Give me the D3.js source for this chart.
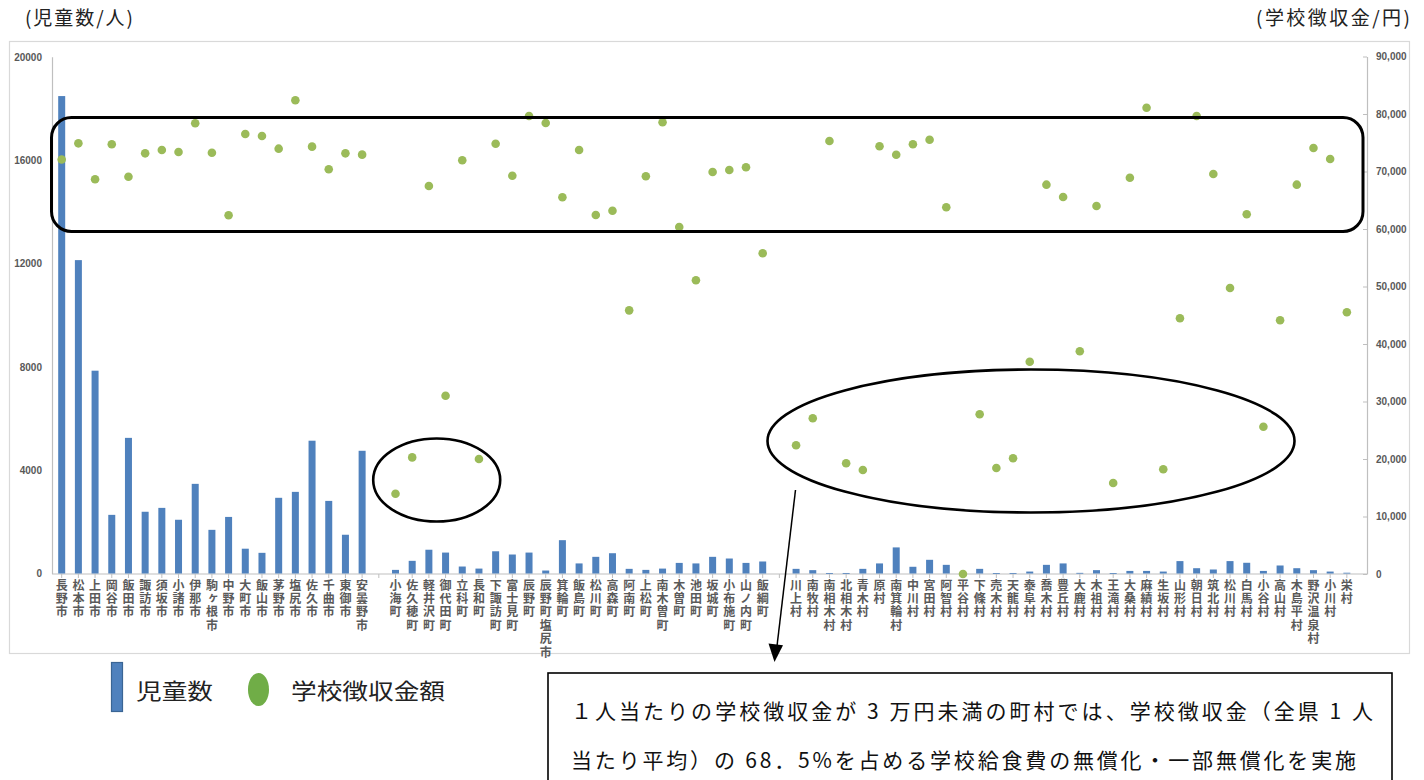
<!DOCTYPE html>
<html lang="ja">
<head>
<meta charset="utf-8">
<script src="https://cdn.jsdelivr.net/npm/d3@7"></script>
<style>
  html, body { margin: 0; padding: 0; background: #fff; }
  svg { display: block; }
  .vlab { writing-mode: vertical-rl; text-orientation: upright; }
</style>
</head>
<body>
<svg id="chart" width="1424" height="780"></svg>
<script>
// ---- data ----
const categories = [
  "長野市","松本市","上田市","岡谷市","飯田市","諏訪市","須坂市","小諸市","伊那市","駒ヶ根市",
  "中野市","大町市","飯山市","茅野市","塩尻市","佐久市","千曲市","東御市","安曇野市",
  "",
  "小海町","佐久穂町","軽井沢町","御代田町","立科町","長和町","下諏訪町","富士見町","辰野町","辰野町塩尻市",
  "箕輪町","飯島町","松川町","高森町","阿南町","上松町","南木曽町","木曽町","池田町","坂城町",
  "小布施町","山ノ内町","飯綱町",
  "",
  "川上村","南牧村","南相木村","北相木村","青木村","原村","南箕輪村","中川村","宮田村","阿智村",
  "平谷村","下條村","売木村","天龍村","泰阜村","喬木村","豊丘村","大鹿村","木祖村","王滝村",
  "大桑村","麻績村","生坂村","山形村","朝日村","筑北村","松川村","白馬村","小谷村","高山村",
  "木島平村","野沢温泉村","小川村","栄村"
];
// 児童数 (人)
const children = [
  18480, 12130, 7850, 2270, 5250, 2390, 2540, 2080, 3470, 1690,
  2190, 960, 800, 2930, 3160, 5140, 2810, 1500, 4750,
  null,
  140, 490, 920, 810, 270, 190, 860, 735, 810, 115,
  1290, 390, 645, 785, 180, 140, 190, 410, 390, 645,
  580, 410, 465,
  null,
  180, 130, 20, 20, 180, 390, 1010, 260, 530, 335,
  15, 180, 15, 20, 75, 335, 390, 25, 130, 15,
  100, 100, 75, 480, 205, 155, 480, 415, 100, 310,
  205, 130, 75, 30
];
// 学校徴収金額 (円)
const fees = [
  72100, 74900, 68640, 74730, 69100, 73160, 73740, 73390, 78380, 73270,
  62380, 76520, 76170, 73970, 82380, 74320, 70380, 73160, 72930,
  null,
  13960, 20280, 67480, 31010, 71950, 20000, 74830, 69270, 79650, 78430,
  65510, 73740, 62430, 63180, 45850, 69170, 78560, 60350, 51080, 69910,
  70260, 70730, 55770,
  null,
  22380, 27080, 75300, 19250, 18090, 74380, 72920, 74730, 75530, 63770,
  0, 27770, 18430, 20120, 36920, 67710, 65570, 38730, 64000, 15830,
  68920, 81100, 18210, 44470, 79650, 69570, 49740, 62560, 25620, 44120,
  67710, 74090, 72170, 45510
];
const leftTicks = [0, 4000, 8000, 12000, 16000, 20000];
const rightTicks = [0, 10000, 20000, 30000, 40000, 50000, 60000, 70000, 80000, 90000];
const leftTitle = "(児童数/人)";
const rightTitle = "(学校徴収金/円)";
const legendLabels = ["児童数", "学校徴収金額"];
const noteLines = [
  "１人当たりの学校徴収金が 3 万円未満の町村では、学校徴収金（全県 1 人",
  "当たり平均）の 68．5%を占める学校給食費の無償化・一部無償化を実施"
];

// ---- drawing ----
const svg = d3.select("#chart");
const FONT = "'Noto Sans CJK JP', 'Noto Sans', sans-serif";
const LAT = "'Liberation Sans', Arial, sans-serif";
const barColor = "#4f81bd";
const dotColor = "#9bbb59";
const axisColor = "#bfbfbf";

svg.append("rect").attr("width", 1424).attr("height", 780).attr("fill", "#fff");

// chart frame
svg.append("rect").attr("x", 9.5).attr("y", 41.5).attr("width", 1400).attr("height", 612)
  .attr("fill", "#fff").attr("stroke", "#d9d9d9").attr("stroke-width", 1.2);

const x = d3.scaleBand().domain(d3.range(categories.length)).range([53.35, 1355.2]).padding(0);
const yL = d3.scaleLinear().domain([0, 20000]).range([573.5, 56.8]);
const yR = d3.scaleLinear().domain([0, 90000]).range([574, 56.5]);
const cx = i => x(i) + x.bandwidth() / 2;

// left axis
const gL = svg.append("g").attr("transform", "translate(52,0)")
  .call(d3.axisLeft(yL).tickValues(leftTicks).tickSize(0).tickPadding(10).tickFormat(d3.format("d")));
gL.select(".domain").attr("stroke", axisColor).attr("stroke-width", 1.2);
gL.selectAll("text").attr("font-family", LAT).attr("font-size", 10).attr("font-weight", "bold").attr("fill", "#595959");

// right axis
const gR = svg.append("g").attr("transform", "translate(1367,0)")
  .call(d3.axisRight(yR).tickValues(rightTicks).tickSizeInner(-4).tickSizeOuter(0).tickPadding(9).tickFormat(d3.format(",")));
gR.select(".domain").attr("stroke", axisColor).attr("stroke-width", 1.2);
gR.selectAll(".tick line").attr("stroke", axisColor);
gR.selectAll("text").attr("font-family", LAT).attr("font-size", 10).attr("font-weight", "bold").attr("fill", "#595959");

// bottom axis (ticks at category centres)
const gB = svg.append("g").attr("transform", "translate(0,574)")
  .call(d3.axisBottom(x).tickSizeInner(4).tickSizeOuter(0).tickFormat(""));
gB.select(".domain").remove();
gB.selectAll(".tick line").attr("stroke", axisColor);
svg.append("line").attr("x1", 52).attr("x2", 1367).attr("y1", 574).attr("y2", 574)
  .attr("stroke", axisColor).attr("stroke-width", 1.2);

// vertical category labels (one text per category, top-to-bottom)
const lab = svg.append("g").attr("font-family", FONT).attr("font-size", 12)
  .attr("font-weight", "bold").attr("fill", "#5a5a5a");
categories.forEach((c, i) => {
  if (!c) return;
  lab.append("text").attr("class", "vlab")
    .attr("x", cx(i)).attr("y", 579)
    .attr("letter-spacing", 1.4)
    .text(c);
});

// bars
const bw = 7;
svg.append("g").selectAll("rect").data(children.map((v, i) => ({v, i})).filter(d => d.v != null))
  .join("rect")
  .attr("x", d => cx(d.i) - bw / 2)
  .attr("y", d => yL(d.v))
  .attr("width", bw)
  .attr("height", d => Math.max(0.8, yL(0) - yL(d.v)))
  .attr("fill", barColor);

// dots
svg.append("g").selectAll("circle").data(fees.map((v, i) => ({v, i})).filter(d => d.v != null))
  .join("circle")
  .attr("cx", d => cx(d.i))
  .attr("cy", d => yR(d.v))
  .attr("r", 4.3)
  .attr("fill", dotColor);

// annotations
const ann = svg.append("g").attr("fill", "none").attr("stroke", "#000");
ann.append("rect").attr("x", 51.5).attr("y", 117.5).attr("width", 1311.5).attr("height", 114)
  .attr("rx", 20).attr("ry", 20).attr("stroke-width", 3);
ann.append("ellipse").attr("cx", 436.7).attr("cy", 480).attr("rx", 63.5).attr("ry", 41.5).attr("stroke-width", 2.6);
ann.append("ellipse").attr("cx", 1031).attr("cy", 441).attr("rx", 263.5).attr("ry", 71.5).attr("stroke-width", 2.6);

// arrow
svg.append("line").attr("x1", 795.5).attr("y1", 490).attr("x2", 777).attr("y2", 646)
  .attr("stroke", "#000").attr("stroke-width", 1.5);
svg.append("path").attr("d", "M 774.5 662 L 768.5 643.5 L 783 645.3 Z").attr("fill", "#000");

// axis titles
svg.append("text").attr("x", 25).attr("y", 25).attr("font-family", FONT).attr("font-size", 19)
  .attr("fill", "#222").attr("textLength", 108).attr("lengthAdjust", "spacing").text(leftTitle);
svg.append("text").attr("x", 1256).attr("y", 25).attr("font-family", FONT)
  .attr("font-size", 19).attr("fill", "#222").attr("textLength", 154).attr("lengthAdjust", "spacing").text(rightTitle);

// legend
svg.append("rect").attr("x", 111.5).attr("y", 662.5).attr("width", 11).attr("height", 49)
  .attr("fill", barColor).attr("stroke", "#3a6594").attr("stroke-width", 1.2);
svg.append("text").attr("x", 136).attr("y", 699).attr("font-family", FONT).attr("font-size", 22)
  .attr("fill", "#222").attr("textLength", 77).attr("lengthAdjust", "spacingAndGlyphs").text(legendLabels[0]);
svg.append("ellipse").attr("cx", 258.5).attr("cy", 689.5).attr("rx", 10.5).attr("ry", 16.5).attr("fill", "#70ad47");
svg.append("text").attr("x", 291).attr("y", 699).attr("font-family", FONT).attr("font-size", 22)
  .attr("fill", "#222").attr("textLength", 154).attr("lengthAdjust", "spacingAndGlyphs").text(legendLabels[1]);

// note box
svg.append("rect").attr("x", 548).attr("y", 673).attr("width", 844).attr("height", 120)
  .attr("fill", "#fff").attr("stroke", "#000").attr("stroke-width", 1.6);
svg.append("text").attr("x", 571).attr("y", 719).attr("font-family", FONT).attr("font-size", 21)
  .attr("fill", "#111").attr("textLength", 802).attr("lengthAdjust", "spacing").text(noteLines[0]);
svg.append("text").attr("x", 571).attr("y", 768).attr("font-family", FONT).attr("font-size", 21)
  .attr("fill", "#111").attr("textLength", 785).attr("lengthAdjust", "spacing").text(noteLines[1]);
</script>
</body>
</html>
